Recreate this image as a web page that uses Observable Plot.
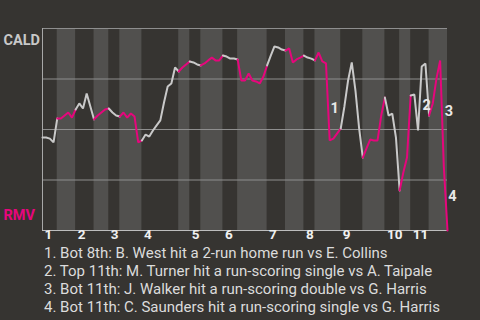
<!DOCTYPE html>
<html><head><meta charset="utf-8">
<script src="https://cdn.jsdelivr.net/npm/d3@7"></script>
<script src="https://cdn.jsdelivr.net/npm/@observablehq/plot@0.6"></script>
<style>
html,body{margin:0;padding:0;background:#363431;}
body{width:480px;height:320px;overflow:hidden;font-family:Roboto,sans-serif;}
#notes{margin-top:-1px;padding-left:44px;color:#dcdcdc;font-size:15px;line-height:18px;white-space:nowrap;}
svg{display:block;overflow:visible;}
</style></head><body>
<div id="chart"></div>
<div id="notes"></div>
<script>
// CALD win probability (%) after each play (index 0 = start of game)
const winProb = [
  46.0, 46.0, 45.5, 43.6, 55.4, 55.4, 56.9, 58.4, 55.9, 59.9,
  62.9, 60.4, 67.8, 61.4, 55.0, 56.9, 58.4, 59.9, 60.4, 58.4,
  56.9, 56.4, 58.4, 55.9, 57.9, 56.4, 43.6, 44.6, 47.5, 46.5,
  49.5, 52.0, 54.5, 63.4, 71.3, 72.8, 80.7, 78.7, 80.7, 82.2,
  83.7, 83.2, 82.2, 81.7, 82.7, 84.2, 85.6, 84.2, 84.2, 86.6,
  86.1, 85.1, 85.1, 84.7, 74.3, 74.3, 77.7, 74.3, 73.8, 72.8,
  76.2, 81.7, 86.6, 91.1, 90.6, 89.6, 89.1, 90.1, 83.2, 84.7,
  85.6, 86.6, 85.6, 85.1, 84.2, 88.1, 83.7, 82.7, 44.6, 45.5,
  48.0, 50.5, 61.4, 74.3, 83.2, 69.3, 50.5, 36.1, 40.6, 45.0,
  44.6, 44.6, 56.9, 65.8, 56.9, 57.9, 46.0, 19.8, 28.7, 36.1,
  66.8, 67.3, 49.5, 81.2, 82.7, 56.9, 62.9, 75.2, 84.2, 31.7,
  0.0
];
// play index at which each half-inning starts (top 1, bot 1, top 2, ...)
const halfStarts = [0, 4, 9, 14, 18, 21, 27, 37, 40, 43, 49, 53, 61, 66, 71, 74, 81, 87, 93, 97, 100, 105];
const lastPlay = 110;
const innings = ["1","2","3","4","5","6","7","8","9","10","11"];
const teams = ["CALD", "RMV"];
const eventLabels = ["1", "2", "3", "4"];
const eventPlays = [78, 103, 109, 110];
const eventLabelProb = [60.4, 61.9, 58.9, 16.8];
const notes = [
  "1. Bot 8th: B. West hit a 2-run home run vs E. Collins",
  "2. Top 11th: M. Turner hit a run-scoring single vs A. Taipale",
  "3. Bot 11th: J. Walker hit a run-scoring double vs G. Harris",
  "4. Bot 11th: C. Saunders hit a run-scoring single vs G. Harris"
];

const WHITE = "#c9c9c9", MAGENTA = "#e6067c";
const halves = halfStarts.map((s, i) => ({
  start: s,
  end: i + 1 < halfStarts.length ? halfStarts[i + 1] : lastPlay,
  bottom: i % 2 === 1,
  half: i
}));
const lineRows = [];
for (const h of halves) {
  for (let k = h.start; k <= h.end; k++) {
    lineRows.push({k, p: winProb[k], half: h.half, color: h.bottom ? MAGENTA : WHITE});
  }
}
const inningStarts = innings.map((t, i) => ({t, x: halfStarts[i * 2]}));
const events = eventLabels.map((t, i) => ({t, x: eventPlays[i], y: eventLabelProb[i]}));

const chart = Plot.plot({
  width: 480,
  height: 245,
  marginLeft: 42,
  marginRight: 33,
  marginTop: 28,
  marginBottom: 15,
  style: {background: "transparent", fontFamily: "Roboto, sans-serif"},
  x: {domain: [0, lastPlay], axis: null},
  y: {domain: [0, 100], axis: null},
  color: {type: "identity"},
  marks: [
    Plot.rect(halves.filter(d => d.bottom), {x1: "start", x2: "end", y1: 0, y2: 100, fill: "#51504e"}),
    Plot.ruleY([25, 50, 75, 100], {stroke: "#8e8e8e", strokeWidth: 1}),
    Plot.ruleY([0], {stroke: "#bdbdbd", strokeWidth: 1.2}),
    Plot.ruleX([0], {y1: 0, y2: 100, stroke: "#a8a8a8", strokeWidth: 1}),
    Plot.line(lineRows, {x: "k", y: "p", z: "half", stroke: "color", strokeWidth: 2, strokeLinejoin: "miter"}),
    Plot.text(inningStarts, {x: "x", text: "t", frameAnchor: "bottom", textAnchor: "start", dx: 2, dy: 8.5, fill: "#f0f0f0", fontWeight: "bold", fontSize: 13.5}),
    Plot.text(events, {x: "x", y: "y", text: "t", dx: 5, fill: "#e8e8e8", fontWeight: "bold", fontSize: 14.5}),
    Plot.text([teams[0]], {text: d => d, frameAnchor: "top-left", textAnchor: "start", dx: -39, dy: 6, fill: "#c8c8c8", fontWeight: "bold", fontSize: 14.5}),
    Plot.text([teams[1]], {text: d => d, frameAnchor: "bottom-left", textAnchor: "start", dx: -39, dy: -10.5, fill: MAGENTA, fontWeight: "bold", fontSize: 14.5})
  ]
});
document.getElementById("chart").appendChild(chart);
const nd = document.getElementById("notes");
for (const n of notes) {
  const div = document.createElement("div");
  div.textContent = n;
  nd.appendChild(div);
}
</script>
</body></html>
